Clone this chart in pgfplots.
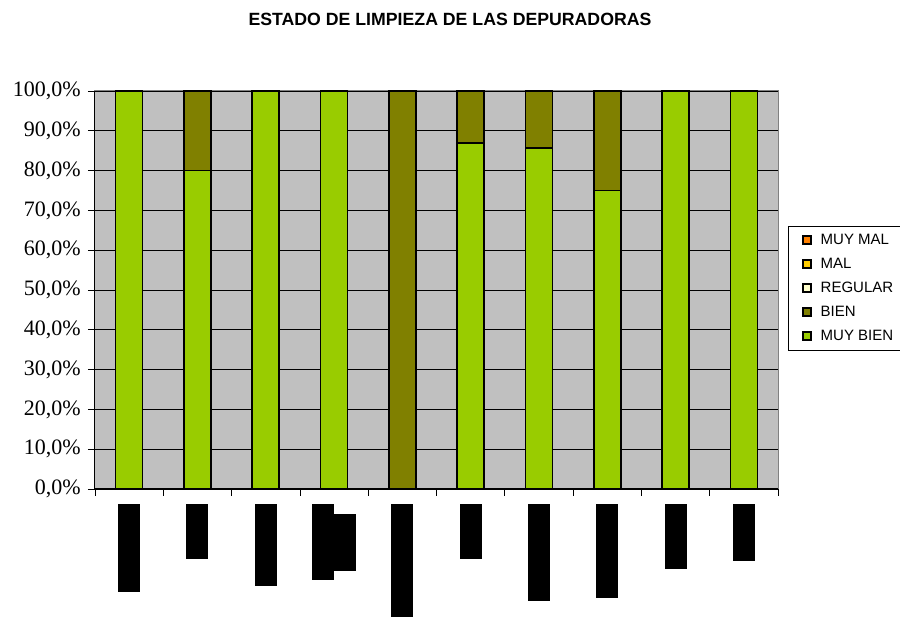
\documentclass[border=0pt]{standalone}
\usepackage{pgfplots}
\pgfplotsset{compat=1.18}
\usepackage{fontspec}
\setmainfont{Liberation Serif}
\newfontfamily\arial{Liberation Sans}
\definecolor{muybien}{HTML}{99CC00}
\definecolor{bien}{HTML}{808000}
\definecolor{regular}{HTML}{FFFFCC}
\definecolor{mal}{HTML}{FFCC00}
\definecolor{muymal}{HTML}{FF8000}
\definecolor{plotbg}{HTML}{C0C0C0}
\begin{document}
\begin{tikzpicture}[x=1pt,y=1pt]
\useasboundingbox (-95,-128) rectangle (805,489);
\begin{axis}[
  at={(0,0)}, anchor=south west,
  scale only axis, width=683pt, height=398pt,
  ybar stacked, bar width=27pt,
  xmin=-0.5, xmax=9.5, ymin=0, ymax=100,
  axis lines=left, axis line style={-, black, line width=1pt},
  axis background/.style={fill=plotbg, draw=gray, line width=1pt},
  ymajorgrids, major grid style={black, line width=0.8pt},
  tick align=outside, major tick length=7pt, minor tick length=7pt,
  tick style={black, line width=0.8pt},
  ytick={0,10,...,100},
  yticklabels={{0,0\%},{10,0\%},{20,0\%},{30,0\%},{40,0\%},{50,0\%},{60,0\%},{70,0\%},{80,0\%},{90,0\%},{100,0\%}},
  yticklabel style={font=\fontsize{22}{24}\selectfont, inner sep=0pt, xshift=-7pt},
  xtick={0,...,9},
  every major x tick/.append style={draw=none},
  minor xtick={-0.5,0.5,...,9.5},
  xticklabels={{\rule{22pt}{88pt}},{\rule{22pt}{55pt}},{\rule{22pt}{82pt}},{\rule{22pt}{76pt}\rule[9pt]{22pt}{57pt}},{\rule{22pt}{113pt}},{\rule{22pt}{55pt}},{\rule{22pt}{97pt}},{\rule{22pt}{94pt}},{\rule{22pt}{65pt}},{\rule{22pt}{57pt}}},
  xticklabel style={anchor=north, inner sep=0pt, yshift=-8pt},
  legend style={at={(axis description cs:1.0146,0.6608)}, anchor=north west, draw=black, fill=white,
    font=\arial\fontsize{15}{17}\selectfont, row sep=6pt, column sep=7pt, inner xsep=14pt, inner ysep=5pt,
    nodes={inner sep=2pt, text height=11pt, text depth=3pt},
    cells={anchor=west}},
  legend image code/.code={\draw[#1, draw=black, line width=1.5pt] (0pt,-4pt) rectangle (8pt,4pt);},
  reverse legend,
]
\addplot[fill=muybien, draw=black, line width=1.7pt] coordinates {(0,100)(1,80)(2,100)(3,100)(4,0)(5,87)(6,85.7)(7,75)(8,100)(9,100)};
\addplot[fill=bien, draw=black, line width=1.7pt] coordinates {(0,0)(1,20)(2,0)(3,0)(4,100)(5,13)(6,14.3)(7,25)(8,0)(9,0)};
\addplot[fill=regular, draw=black, line width=1.7pt] coordinates {(0,0)(1,0)(2,0)(3,0)(4,0)(5,0)(6,0)(7,0)(8,0)(9,0)};
\addplot[fill=mal, draw=black, line width=1.7pt] coordinates {(0,0)(1,0)(2,0)(3,0)(4,0)(5,0)(6,0)(7,0)(8,0)(9,0)};
\addplot[fill=muymal, draw=black, line width=1.7pt] coordinates {(0,0)(1,0)(2,0)(3,0)(4,0)(5,0)(6,0)(7,0)(8,0)(9,0)};
\legend{MUY BIEN, BIEN, REGULAR, MAL, MUY MAL}
\end{axis}
\node[font=\arial\bfseries\fontsize{17.7}{20}\selectfont] at (355,470) {ESTADO DE LIMPIEZA DE LAS DEPURADORAS};
\end{tikzpicture}
\end{document}
